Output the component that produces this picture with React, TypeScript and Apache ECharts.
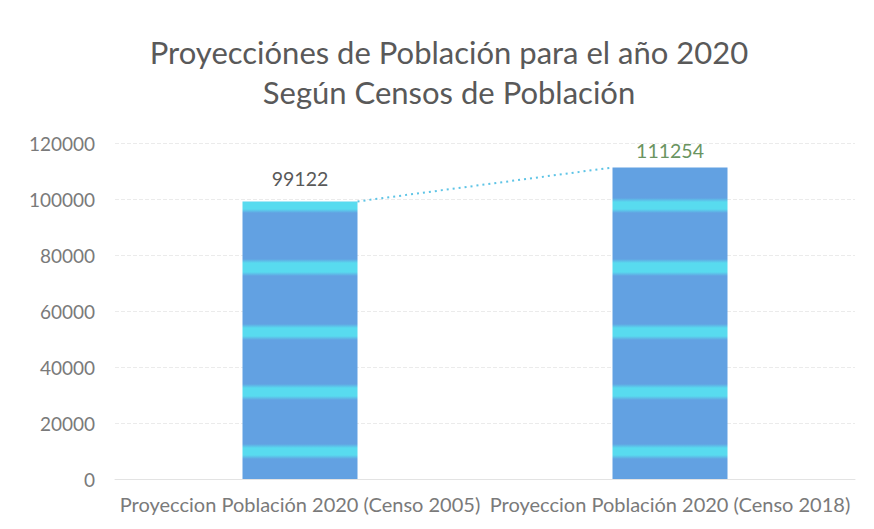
import React, { useEffect, useRef } from "react";
import * as echarts from "echarts";

const categories = [
  "Proyeccion Población 2020 (Censo 2005)",
  "Proyeccion Población 2020 (Censo 2018)",
];
const values = [99122, 111254];
const labelColors = ["#595959", "#6a9460"];
const labelDistances = [13, 7];
const yTicks = { min: 0, max: 120000, interval: 20000 };
const titleLines = ["Proyecciónes de Población para el año 2020", "Según Censos de Población"];

const BLUE = "#62a1e2";
const CYAN = "#58dbef";
const stripes: [number, number][] = [
  [200, 211],
  [261, 274],
  [326, 338],
  [386, 398],
  [446, 457],
];

function stripeGradient() {
  const H = 529;
  const stops: { offset: number; color: string }[] = [{ offset: 0, color: BLUE }];
  stripes.forEach(([a, b]) => {
    stops.push({ offset: (a - 2) / H, color: BLUE });
    stops.push({ offset: (a + 2) / H, color: CYAN });
    stops.push({ offset: (b - 2) / H, color: CYAN });
    stops.push({ offset: (b + 2) / H, color: BLUE });
  });
  stops.push({ offset: 1, color: BLUE });
  return { type: "linear", x: 0, y: 0, x2: 0, y2: H, global: true, colorStops: stops };
}

const BAR_WIDTH = 115;
const FONT = "Lato, 'Open Sans', sans-serif";

export default function App() {
  const ref = useRef<HTMLDivElement>(null);
  useEffect(() => {
    document.body.style.margin = "0";
    const chart = echarts.init(ref.current!, null, { renderer: "svg" });
    chart.setOption({
      animation: false,
      backgroundColor: "#ffffff",
      textStyle: { fontFamily: FONT },
      title: {
        text: titleLines.join("\n"),
        left: 444,
        textAlign: "center",
        top: 27,
        textStyle: { fontFamily: FONT, fontSize: 31, fontWeight: "normal", color: "#595959", lineHeight: 40 },
      },
      grid: { left: 115, right: 19, top: 143, bottom: 50, containLabel: false },
      xAxis: {
        type: "category",
        data: categories,
        axisTick: { show: false },
        axisLine: { lineStyle: { color: "#e3e3e3" } },
        axisLabel: { color: "#7a7a7a", fontSize: 20, margin: 15, interval: 0, fontFamily: FONT },
      },
      yAxis: {
        type: "value",
        min: yTicks.min,
        max: yTicks.max,
        interval: yTicks.interval,
        axisLine: { show: false },
        axisTick: { show: false },
        splitLine: { lineStyle: { color: "#ebebeb", type: "dashed" } },
        axisLabel: {
          fontSize: 19,
          margin: 20,
          fontFamily: FONT,
          formatter: (v: number) => String(v),
          color: (v: number) => (v === 120000 ? "#86c9a0" : v === 100000 ? "#8a988a" : "#7a7a7a"),
        },
      },
      series: [
        {
          type: "bar",
          barWidth: BAR_WIDTH,
          data: values.map((v, i) => ({
            value: v,
            label: { color: labelColors[i], distance: labelDistances[i] },
          })),
          itemStyle: { color: stripeGradient() },
          label: { show: true, position: "top", fontSize: 19.5, fontFamily: FONT },
        },
        {
          type: "custom",
          data: values.map((v, i) => [i, v]),
          z: 5,
          renderItem: (params: any, api: any) => {
            if (params.dataIndex !== 0) return null;
            const p0 = api.coord([0, values[0]]);
            const p1 = api.coord([1, values[1]]);
            const half = BAR_WIDTH / 2;
            return {
              type: "line",
              shape: { x1: p0[0] + half, y1: p0[1], x2: p1[0] - half, y2: p1[1] },
              style: { stroke: "#5ec4e6", lineWidth: 2, lineDash: [2, 4] },
            };
          },
        },
      ],
    });
    return () => chart.dispose();
  }, []);
  return <div ref={ref} style={{ width: 874, height: 529 }} />;
}
